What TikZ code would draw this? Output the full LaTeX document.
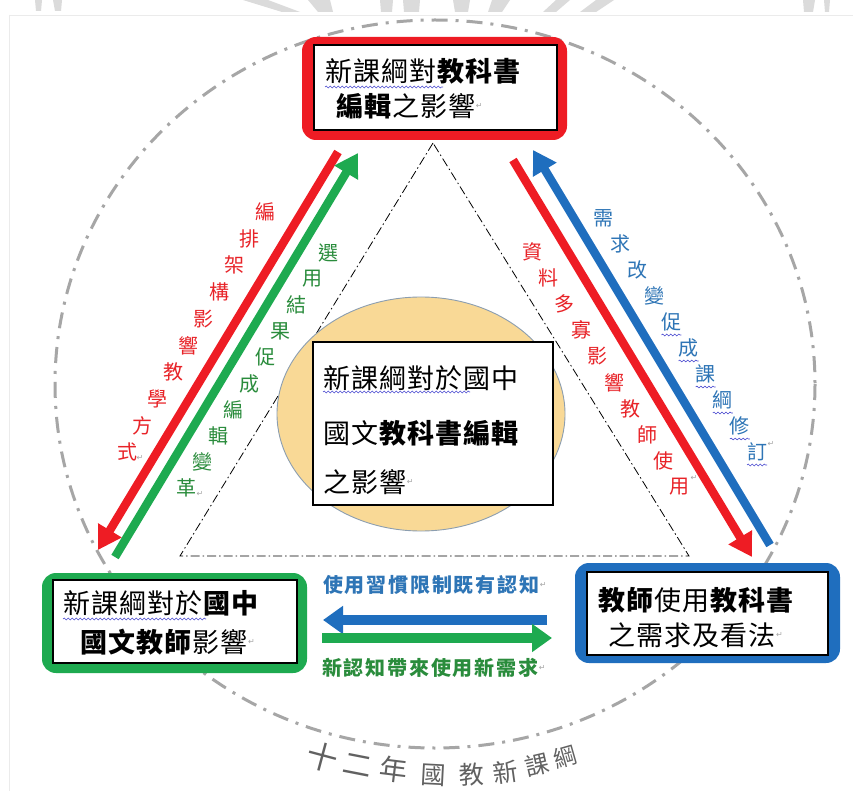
\documentclass[tikz,border=0pt]{standalone}
\usepackage{fontspec}
\newfontfamily\cjk{Noto Sans CJK TC}[LetterSpace=4]
\newfontfamily\cjkw{Noto Sans CJK TC}[LetterSpace=9]
\newfontfamily\cjkn{Noto Sans CJK TC}
\newfontfamily\symf{DejaVu Sans}
\usetikzlibrary{arrows.meta,decorations.pathmorphing,shapes.geometric}
\definecolor{cred}{HTML}{EE1C24}
\definecolor{cgreen}{HTML}{1EAA50}
\definecolor{cblue}{HTML}{1F6EBE}
\definecolor{tred}{HTML}{E82328}
\definecolor{tgreen}{HTML}{2A8C3C}
\definecolor{tblue}{HTML}{2E75B6}
\definecolor{cyellow}{HTML}{F9D996}
\definecolor{discline}{HTML}{8C9EB0}
\definecolor{cgray}{HTML}{A6A6A6}
\definecolor{wavyblue}{HTML}{4A4AD0}
\begin{document}
\begin{tikzpicture}[x=1pt,y=-1pt,
  outerbox/.style={rounded corners=14pt, minimum width=265pt, inner sep=0pt},
  innerbox/.style={draw=black, line width=1.2pt, fill=white, inner sep=0pt},
  boxtext/.style={anchor=west, inner sep=0pt, font=\cjk\fontsize{27}{30}\selectfont},
  diagtext/.style={inner sep=0pt, font=\cjkn\fontsize{20}{22}\selectfont},
  arrtext/.style={anchor=west, inner sep=0pt, font=\cjkw\bfseries\fontsize{20}{22}\selectfont},
  bigarrow/.style={line width=8.5pt, -{Triangle[length=23pt,width=26pt]}},
  barrow/.style={line width=10pt, -{Triangle[length=20pt,width=27pt]}},
  wavy/.style={draw=wavyblue, line width=0.6pt, decorate, decoration={snake, amplitude=0.9pt, segment length=4pt}},
  retmark/.style={inner sep=0pt, text=gray!70, font=\symf\fontsize{8}{9}\selectfont},
  curvtext/.style={inner sep=0pt, text=black!62}
]
\useasboundingbox (0,0) rectangle (853,791);
\fill[white] (0,0) rectangle (853,791);

% faint watermark at the top edge
\begin{scope}[fill=black!14]
  \fill (35,0) -- (42,0) -- (41,11) -- (36,11) -- cycle;
  \fill (53,0) -- (62,0) -- (61,11) -- (55,11) -- cycle;
  \fill (243,0) -- (268,0) -- (300,12) -- (282,12) -- cycle;
  \fill (308,0) -- (330,0) -- (333,12) -- (318,12) -- cycle;
  \fill (380,0) -- (393,0) -- (392,12) -- (381,12) -- cycle;
  \fill (403,0) -- (420,0) -- (419,12) -- (404,12) -- cycle;
  \fill (453,0) -- (470,0) -- (468,12) -- (455,12) -- cycle;
  \fill (492,0) -- (510,0) -- (502,12) -- (488,12) -- cycle;
  \fill (556,0) -- (570,0) -- (556,12) -- (543,12) -- cycle;
  \fill (596,0) -- (614,0) -- (596,12) -- (580,12) -- cycle;
  \fill (803,0) -- (815,0) -- (813,12) -- (804,12) -- cycle;
  \fill (824,0) -- (830,0) -- (829,12) -- (825,12) -- cycle;
\end{scope}
\draw[black!8, line width=0.8pt] (9,15) -- (853,15);
\draw[black!8, line width=0.8pt] (9,15) -- (9,791);

% outer dash-dot circle
\draw[cgray, line width=3pt, dash pattern=on 16pt off 8pt on 3pt off 8pt] (435,384) ellipse [x radius=380, y radius=364];

% dash-dot triangle
\coordinate (apex) at (433,143);
\coordinate (bl) at (180,556);
\coordinate (br) at (689,556);
\draw[black, line width=0.8pt, dash pattern=on 9pt off 3pt on 1.5pt off 3pt] (apex) -- (bl) -- (br) -- cycle;

% central yellow disc and box
\node[draw=discline, line width=0.9pt, fill=cyellow, ellipse, minimum width=288pt, minimum height=234pt, inner sep=0pt] (disc) at (421,414) {};
\node[innerbox, minimum width=240pt, minimum height=163pt] (centerbox) at (433,423.5) {};
\node[boxtext] (c1) at (323,378) {新課綱對於國中};
\node[boxtext] (c2) at (323,433) {國文\textbf{教科書編輯}};
\node[boxtext] (c3) at (323,482) {之影響};
\node[retmark, anchor=west] at (c3.east) {↵};
\draw[wavy] (323,392) -- (470,392);

% top box
\node[outerbox, fill=cred, minimum height=103pt] (topouter) at (434.5,88.5) {};
\node[innerbox, minimum width=243pt, minimum height=85pt] (topbox) at (435.5,87.5) {};
\node[boxtext] (t1) at (325,71) {新課綱對\textbf{教科書}};
\node[boxtext] (t2) at (336,106) {\textbf{編輯}之影響};
\node[retmark, anchor=west] at (t2.east) {↵};
\draw[wavy] (325,87) -- (443,87);

% bottom-left box
\node[outerbox, fill=cgreen, minimum height=100pt] (blouter) at (174.5,623) {};
\node[innerbox, minimum width=244pt, minimum height=83pt] (blbox) at (175,621.5) {};
\node[boxtext] (l1) at (63,603) {新課綱對於\textbf{國中}};
\node[boxtext] (l2) at (80,642) {\textbf{國文教師}影響};
\node[retmark, anchor=west] at (l2.east) {↵};
\draw[wavy] (63,619) -- (206,619);

% bottom-right box
\node[outerbox, fill=cblue, minimum height=100pt] (brouter) at (707.5,613) {};
\node[innerbox, minimum width=241pt, minimum height=83pt] (brbox) at (707.5,613.5) {};
\node[boxtext] (r1) at (598,600) {\textbf{教師}使用\textbf{教科書}};
\node[boxtext] (r2) at (608,635) {之需求及看法};
\node[retmark, anchor=west] at (r2.east) {↵};

% left diagonal arrows
\coordinate (lrs) at (338,152);
\coordinate (lre) at (98,550);
\coordinate (lgs) at (115,557);
\coordinate (lge) at (358,153);
\draw[bigarrow, cred] (lrs) -- (lre);
\draw[bigarrow, cgreen] (lgs) -- (lge);

% right diagonal arrows
\coordinate (rrs) at (513,160);
\coordinate (rre) at (752,557);
\coordinate (rbs) at (770,545);
\coordinate (rbe) at (533,150);
\draw[bigarrow, cred] (rrs) -- (rre);
\draw[bigarrow, cblue] (rbs) -- (rbe);

% diagonal labels
\foreach \c [count=\i from 0] in {編,排,架,構,影,響,教,學,方,式}
  \node[diagtext, text=tred] at (265-15.33*\i, 212+26.67*\i) {\c};
\node[retmark] at (140,458) {↵};
\foreach \c [count=\i from 0] in {選,用,結,果,促,成,編,輯,變,革}
  \node[diagtext, text=tgreen] at (328-15.67*\i, 253+26.11*\i) {\c};
\node[retmark] at (200,494) {↵};
\foreach \c [count=\i from 0] in {資,料,多,寡,影,響,教,師,使,用}
  \node[diagtext, text=tred] at (532+16.44*\i, 252+26.11*\i) {\c};
\node[retmark] at (694,478) {↵};
\foreach \c [count=\i from 0] in {需,求,改,變,促,成,課,綱,修,訂}
  \node[diagtext, text=tblue] at (603+17.11*\i, 218+26*\i) {\c};
\foreach \i in {4,...,9}
  \draw[wavy] (593+17.11*\i, 231+26*\i) -- (613+17.11*\i, 231+26*\i);
\node[retmark] at (771,444) {↵};

% bottom horizontal arrows
\coordinate (hbs) at (547,620);
\coordinate (hbe) at (323,620);
\coordinate (hgs) at (322,638);
\coordinate (hge) at (552,638);
\draw[barrow, cblue] (hbs) -- (hbe);
\draw[barrow, cgreen] (hgs) -- (hge);
\node[arrtext, text=tblue] (ba) at (323,585) {使用習慣限制既有認知};
\node[retmark, anchor=west] at (ba.east) {↵};
\node[arrtext, text=tgreen] (ga) at (322,668) {新認知帶來使用新需求};
\node[retmark, anchor=west] at (ga.east) {↵};

% curved title
\foreach \c/\x/\y/\r/\s in {十/323/757/-15/31, 二/358/765/-11/29, 年/394/770/-7/28, 國/433/775/-3/25, 教/472/775/2/25, 新/506/772/8/25, 課/537/765/13/24, 綱/565/757/16/23} {
  \node[curvtext, rotate=\r, font=\cjkn\fontsize{\s}{\s}\selectfont] at (\x,\y) {\c};
}
\end{tikzpicture}
\end{document}
